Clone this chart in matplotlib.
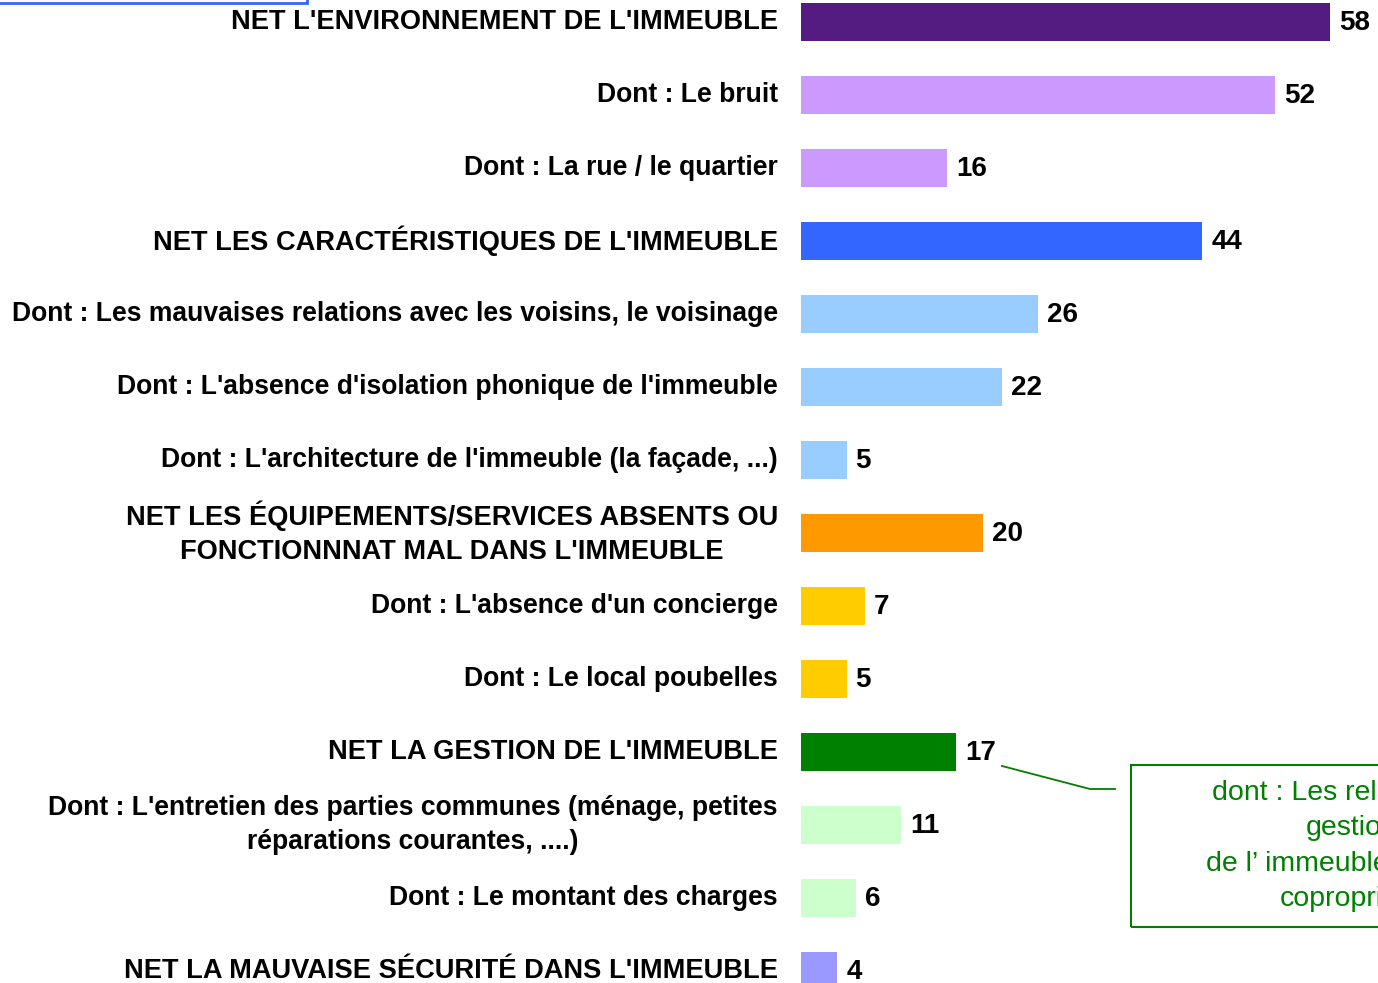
import matplotlib
matplotlib.use("Agg")
import matplotlib.pyplot as plt
from matplotlib.patches import Rectangle
from matplotlib.lines import Line2D

plt.rcParams['font.family'] = ['Liberation Sans', 'DejaVu Sans']

categories = [
    "NET L'ENVIRONNEMENT DE L'IMMEUBLE",
    "Dont : Le bruit",
    "Dont : La rue / le quartier",
    "NET LES CARACTÉRISTIQUES DE L'IMMEUBLE",
    "Dont : Les mauvaises relations avec les voisins, le voisinage",
    "Dont : L'absence d'isolation phonique de l'immeuble",
    "Dont : L'architecture de l'immeuble (la façade, ...)",
    "NET LES ÉQUIPEMENTS/SERVICES ABSENTS OU\nFONCTIONNNAT MAL DANS L'IMMEUBLE",
    "Dont : L'absence d'un concierge",
    "Dont : Le local poubelles",
    "NET LA GESTION DE L'IMMEUBLE",
    "Dont : L'entretien des parties communes (ménage, petites\nréparations courantes, ....)",
    "Dont : Le montant des charges",
    "NET LA MAUVAISE SÉCURITÉ DANS L'IMMEUBLE",
]
values = [58, 52, 16, 44, 26, 22, 5, 20, 7, 5, 17, 11, 6, 4]
colors = ["#541C80", "#CC99FF", "#CC99FF", "#3366FF", "#99CCFF", "#99CCFF", "#99CCFF",
          "#FF9900", "#FFCC00", "#FFCC00", "#008000", "#CCFFCC", "#CCFFCC", "#9999FF"]
callout_lines = ["dont : Les relations avec la", "gestion", "de l’ immeuble / de la", "copropriété"]

W, H = 1378, 983
fig = plt.figure(figsize=(W / 100, H / 100), dpi=100)
x0 = 801
pxu = 9.12
ax = fig.add_axes([x0 / W, 0, 1 - x0 / W, 1])
ax.set_xlim(0, (W - x0) / pxu)
ax.set_ylim((H - 22) / 73, -22 / 73)
ax.axis('off')

ys = list(range(len(values)))
ax.barh(ys, values, height=0.52, color=colors)
for y, v in zip(ys, values):
    ax.annotate(str(v), (v, y), xytext=(9, -1), textcoords='offset pixels',
                ha='left', va='center', fontsize=20, fontweight='bold')
for y, c in zip(ys, categories):
    fs = 19.6 if c.startswith("NET") else 19.1
    ax.annotate(c, (0, y), xytext=(-23, 0), textcoords='offset pixels',
                ha='right', va='center', fontsize=fs, fontweight='bold',
                multialignment='center', linespacing=1.38)

# partial blue box top-left
fig.add_artist(Rectangle((-0.01, 1 - 3 / H), 0.01 + 307 / W, 0.1,
                         transform=fig.transFigure, fill=False, edgecolor="#3366FF",
                         linewidth=2, clip_on=False))

# callout box
green = "#008000"
fig.add_artist(Line2D([1002 / W, 1090 / W, 1115 / W], [1 - 766 / H, 1 - 789 / H, 1 - 789 / H],
                      transform=fig.transFigure, color=green, linewidth=1.3))
fig.add_artist(Rectangle((1131 / W, 1 - 927 / H), 400 / W, 162 / H, transform=fig.transFigure,
                         fill=False, edgecolor=green, linewidth=1.5))
starts = [1212, 1306, 1206, 1280]
for i, (t, xs) in enumerate(zip(callout_lines, starts)):
    fig.text(xs / W, 1 - (793 + 35.3 * i) / H, t, ha='left', va='center',
             fontsize=20.5, color=green)

fig.savefig("out.png", dpi=100)
